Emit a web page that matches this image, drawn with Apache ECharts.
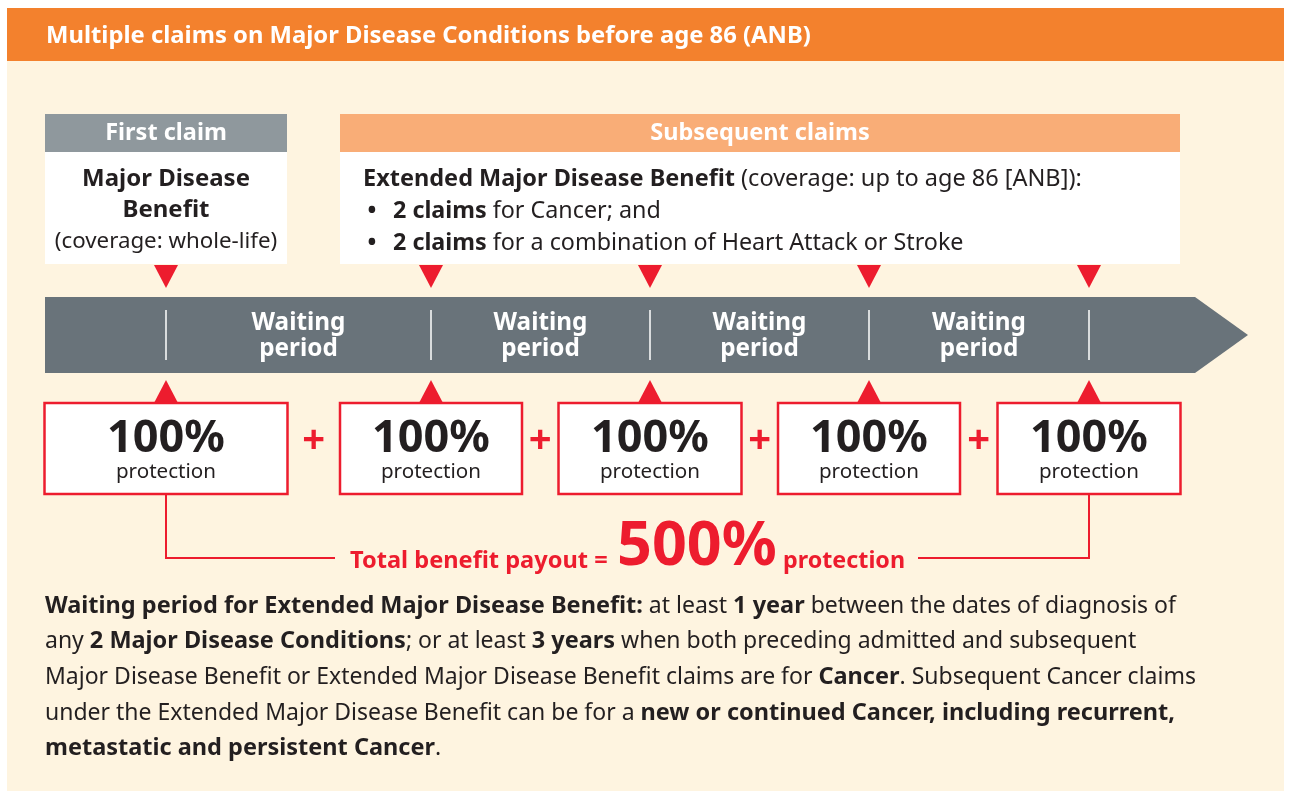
<!DOCTYPE html>
<html>
<head>
<meta charset="utf-8">
<script src="https://cdn.jsdelivr.net/npm/echarts@6/dist/echarts.min.js"></script>
<style>
html,body{margin:0;padding:0;background:#ffffff;}
#chart{width:1290px;height:791px;}
</style>
</head>
<body>
<div id="chart"></div>
<script>
// ---------- data ----------
const titleText = 'Multiple claims on Major Disease Conditions before age 86 (ANB)';
const claimGroups = ['First claim', 'Subsequent claims'];
const claimPayouts = [100, 100, 100, 100, 100];
const payoutLabel = 'protection';
const waitingLabels = ['Waiting\nperiod', 'Waiting\nperiod', 'Waiting\nperiod', 'Waiting\nperiod'];
const firstBenefitLines = ['Major Disease', 'Benefit', '(coverage: whole-life)'];
const extendedHead = '{b|Extended Major Disease Benefit} (coverage: up to age 86 [ANB]):';
const extendedBullets = ['{b|2 claims} for Cancer; and', '{b|2 claims} for a combination of Heart Attack or Stroke'];
const totalPrefix = 'Total benefit payout =';
const noteLines = [
  '{b|Waiting period for Extended Major Disease Benefit:} at least {b|1 year} between the dates of diagnosis of',
  'any {b|2 Major Disease Conditions}; or at least {b|3 years} when both preceding admitted and subsequent',
  'Major Disease Benefit or Extended Major Disease Benefit claims are for {b|Cancer}. Subsequent Cancer claims',
  'under the Extended Major Disease Benefit can be for a {b|new or continued Cancer, including recurrent,}',
  '{b|metastatic and persistent Cancer}.'
];

// ---------- layout / style ----------
const FONT = '"Noto Sans", "Open Sans", sans-serif';
const RED = '#ED1C2E';
const DARK = '#231F20';
const claimX = [166, 431, 650, 869, 1089];
const boxHalf = [121.5, 91, 91.5, 91, 91.5];

const g = [];
function txt(x, y, text, size, weight, fill, align, extra) {
  const st = Object.assign({
    text: text, fill: fill, fontSize: size, fontWeight: weight, fontFamily: FONT,
    align: align || 'center', textAlign: align || 'center',
    verticalAlign: 'middle', textVerticalAlign: 'middle'
  }, extra || {});
  g.push({ type: 'text', x: x, y: y, style: st, z: 10 });
}
function rect(x, y, w, h, fill, stroke, lw) {
  g.push({ type: 'rect', shape: { x: x, y: y, width: w, height: h },
    style: { fill: fill, stroke: stroke || null, lineWidth: lw || 0 }, z: 5 });
}
function poly(points, fill) {
  g.push({ type: 'polygon', shape: { points: points }, style: { fill: fill }, z: 6 });
}
function line(points, stroke, lw) {
  g.push({ type: 'polyline', shape: { points: points }, style: { stroke: stroke, lineWidth: lw, fill: null }, z: 6 });
}
function richStyle(boldSize, regSize) {
  return {
    b: { fontWeight: 'bold', fontSize: boldSize, fontFamily: FONT, fill: DARK },
    r: { fontWeight: 'normal', fontSize: regSize || boldSize, fontFamily: FONT, fill: DARK }
  };
}

// background panel
rect(7, 8, 1277, 783, '#FEF4E0');
// title bar
rect(7, 8, 1277, 53, '#F3812D');
txt(46, 36, titleText, 23.8, 'bold', '#ffffff', 'left');

// first claim header + box
rect(45, 114, 242, 38, '#8F989D');
txt(166, 133, claimGroups[0], 23.5, 'bold', '#ffffff');
rect(45, 152, 242, 112, '#ffffff');
txt(166, 179, firstBenefitLines[0], 24, 'bold', DARK);
txt(166, 210, firstBenefitLines[1], 24, 'bold', DARK);
txt(166, 242, firstBenefitLines[2], 22.3, 'normal', DARK);

// subsequent header + box
rect(340, 114, 840, 38, '#F9AD77');
txt(760, 133, claimGroups[1], 23.5, 'bold', '#ffffff');
rect(340, 152, 840, 112, '#ffffff');
txt(363, 179, extendedHead, 23.5, 'normal', DARK, 'left', { rich: richStyle(23.5) });
extendedBullets.forEach(function (b, i) {
  const y = 211 + i * 32;
  txt(372, y, '\u2022', 23.5, 'bold', DARK);
  txt(393, y, b, 23.3, 'normal', DARK, 'left', { rich: richStyle(23.3) });
});

// arrow band
poly([[45, 297], [1195, 297], [1248, 335], [1195, 373], [45, 373]], '#69737A');

claimX.forEach(function (cx, i) {
  // down triangle
  poly([[cx - 12, 265], [cx + 12, 265], [cx, 288]], RED);
  // divider
  line([[cx, 310], [cx, 360]], '#ffffff', 1.5);
  // up triangle
  poly([[cx - 12, 403], [cx + 12, 403], [cx, 380]], RED);
  // protection box
  const hw = boxHalf[i];
  rect(cx - hw, 403, hw * 2, 91, '#ffffff', RED, 2.5);
  txt(cx, 439, claimPayouts[i] + '%', 45, 'bold', DARK);
  txt(cx, 472, payoutLabel, 20.6, 'normal', DARK);
  // plus
  if (i < claimX.length - 1) {
    const px = (cx + hw + claimX[i + 1] - boxHalf[i + 1]) / 2;
    txt(px, 442, '+', 40, 'bold', RED);
  }
});

waitingLabels.forEach(function (w, i) {
  const cx = (claimX[i] + claimX[i + 1]) / 2;
  txt(cx, 336, w, 24.3, 'bold', '#ffffff', 'center', { lineHeight: 26 });
});

// total connector
const total = claimPayouts.reduce(function (a, b) { return a + b; }, 0);
line([[claimX[0], 494], [claimX[0], 558], [335, 558]], RED, 2);
line([[918, 558], [claimX[4], 558], [claimX[4], 494]], RED, 2);
txt(350, 561, totalPrefix, 23.6, 'bold', RED, 'left');
txt(617, 548, total + '%', 61, 'bold', RED, 'left');
txt(783, 561, payoutLabel, 23.3, 'bold', RED, 'left');

// notes
noteLines.forEach(function (l, i) {
  txt(45, 606 + i * 35.7, l, 23, 'normal', DARK, 'left', { rich: richStyle(23.5, 23) });
});

const chart = echarts.init(document.getElementById('chart'), null, { renderer: 'canvas' });
chart.setOption({
  backgroundColor: '#ffffff',
  animation: false,
  graphic: { elements: g }
});
</script>
</body>
</html>
